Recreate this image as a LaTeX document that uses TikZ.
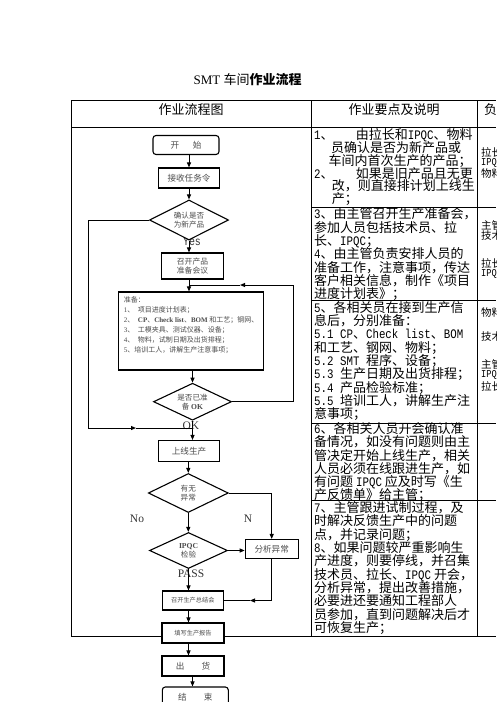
\documentclass[tikz,border=0pt]{standalone}
\usepackage{fontspec}
\setmainfont{Liberation Serif}
\newfontfamily\cjk{Noto Sans CJK SC}
\newfontfamily\monoh[FakeStretch=0.83]{Liberation Mono}
\usetikzlibrary{arrows.meta,shapes.geometric,calc}
\newcommand\mm[1]{{\monoh #1}}
\newcommand\tightls{\lineskiplimit=-20pt\relax}
\begin{document}
\begin{tikzpicture}[x=1pt,y=-1pt,
  tline/.style={line width=0.9pt},
  fbox/.style={draw, line width=1.1pt, fill=white, inner sep=0pt, text=black!70, align=center, font=\cjk\fontsize{8.6}{10}\selectfont},
  rbox/.style={fbox, rounded corners=3pt},
  dia/.style={draw, diamond, aspect=2, line width=1.1pt, fill=white, inner sep=0pt, text=black!70, align=center, font=\cjk\fontsize{7.6}{9}\selectfont},
  arr/.style={line width=1pt, -{Triangle[length=5pt,width=4pt]}},
  conn/.style={line width=1pt},
  lbl/.style={font=\fontsize{11.5}{12}\selectfont, text=black!80, inner sep=0pt},
  cell/.style={anchor=north west, inner sep=0pt, align=left},
  side/.style={anchor=west, inner sep=0pt, font=\cjk\fontsize{10.5}{10.5}\selectfont},
]
\useasboundingbox (0,0) rectangle (496,702);
\clip (0,0) rectangle (496,702);

% title
\node[inner sep=0pt, font=\fontsize{13}{13}\selectfont] (title) at (247.7,80) {SMT {\cjk 车间}{\cjk\bfseries 作业流程}};

% table
\draw[tline] (71,100) -- (496,100);
\draw[tline] (71,127) -- (496,127);
\draw[tline] (71,100) -- (71,636) -- (496,636);
\draw[tline] (311,100) -- (311,636);
\draw[tline] (477,100) -- (477,636);
\foreach \yy in {207,300,423,500} \draw[tline] (311,\yy) -- (496,\yy);

% headers
\node[inner sep=0pt, font=\cjk\fontsize{13}{13}\selectfont] (h1) at (191,110) {作业流程图};
\node[inner sep=0pt, font=\cjk\fontsize{13}{13}\selectfont] (h2) at (394,110) {作业要点及说明};
\node[inner sep=0pt, anchor=west, font=\cjk\fontsize{13}{13}\selectfont] (h3) at (484,110) {负责人};

% middle column
\node[cell, font=\cjk\fontsize{13}{12.8}\selectfont\tightls] (c1) at (314,128.5) {%
\mm{1}、\hspace{1.7em}由拉长和\mm{IPQC}、物料\\
\hspace*{1.3em}员确认是否为新产品或\\
\hspace*{1.1em}车间内首次生产的产品；\\
\mm{2}、\hspace{1.7em}如果是旧产品且无更\\
\hspace*{1.35em}改，则直接排计划上线生\\
\hspace*{1.35em}产；};
\node[cell, font=\cjk\fontsize{13}{13.3}\selectfont\tightls] (c2) at (314,207.8) {%
\mm{3}、由主管召开生产准备会，\\
参加人员包括技术员、拉\\
长、\mm{IPQC}；\\
\mm{4}、由主管负责安排人员的\\
准备工作，注意事项，传达\\
客户相关信息，制作《项目\\
进度计划表》；};
\node[cell, font=\cjk\fontsize{13}{13.3}\selectfont\tightls] (c3) at (314,301) {%
\mm{5}、各相关员在接到生产信\\
息后，分别准备：\\
\mm{5.1 CP}、\mm{Check list}、\mm{BOM}\\
和工艺、钢网、物料；\\
\mm{5.2 SMT }程序、设备；\\
\mm{5.3 }生产日期及出货排程；\\
\mm{5.4 }产品检验标准；\\
\mm{5.5 }培训工人，讲解生产注\\
意事项；};
\node[cell, font=\cjk\fontsize{13}{13.15}\selectfont\tightls] (c4) at (314,422.5) {%
\mm{6}、各相关人员开会确认准\\
备情况，如没有问题则由主\\
管决定开始上线生产，相关\\
人员必须在线跟进生产，如\\
有问题 \mm{IPQC} 应及时写《生\\
产反馈单》给主管；};
\node[cell, font=\cjk\fontsize{13}{13.35}\selectfont\tightls] (c5) at (314,501.3) {%
\mm{7}、主管跟进试制过程，及\\
时解决反馈生产中的问题\\
点，并记录问题；\\
\mm{8}、如果问题较严重影响生\\
产进度，则要停线，并召集\\
技术员、拉长、\mm{IPQC} 开会，\\
分析异常，提出改善措施，\\
必要进还要通知工程部人\\
员参加，直到问题解决后才\\
可恢复生产；};

% right column (cut by the page edge)
\node[side] (s1a) at (481,152) {拉长};
\node[side] (s1b) at (481,163) {\mm{IPQC}};
\node[side] (s1c) at (481,174) {物料员};
\node[side] (s2a) at (481,225) {主管};
\node[side] (s2b) at (481,236) {技术员};
\node[side] (s2c) at (481,263) {拉长};
\node[side] (s2d) at (481,274) {\mm{IPQC}};
\node[side] (s3a) at (481,313) {物料员};
\node[side] (s3b) at (481,337) {技术员};
\node[side] (s3c) at (481,364) {主管};
\node[side] (s3d) at (481,375) {\mm{IPQC}};
\node[side] (s3e) at (481,386) {拉长};

% flowchart nodes
\node[lbl, font=\monoh\fontsize{12}{12}\selectfont] (yes) at (192,242) {Yes};
\node[rbox, minimum width=66pt, minimum height=19pt] (start) at (186,145) {开\hspace{1.6em}始};
\node[fbox, minimum width=61pt, minimum height=20pt] (recv) at (189,178) {接收任务令};
\node[dia, minimum width=79pt, minimum height=40pt] (new) at (189,220) {确认是否\\为新产品};
\node[fbox, minimum width=62pt, minimum height=26pt, font=\cjk\fontsize{7.8}{9.5}\selectfont] (meet) at (192.5,266) {召开产品\\准备会议};
\node[fbox, minimum width=145pt, minimum height=78pt] (prep) at (190.8,331) {};
\node[anchor=north west, inner sep=0pt, align=left, text=black!70, font=\cjk\fontsize{7}{9.9}\selectfont] (preptext) at ($(prep.north west)+(6,5)$) {准备：\\
{\rmfamily 1}、\hspace{0.5em}项目进度计划表；\\
{\rmfamily 2}、\hspace{0.5em}{\rmfamily\bfseries CP}、{\rmfamily\bfseries Check list}、{\rmfamily\bfseries BOM} 和工艺；钢网、\\
{\rmfamily 3}、\hspace{0.5em}工模夹具、测试仪器、设备；\\
{\rmfamily 4}、\hspace{0.5em}物料，试制日期及出货排程；\\
{\rmfamily 5}、培训工人，讲解生产注意事项；};
\node[dia, minimum width=78pt, minimum height=37pt] (okd) at (192.5,401.7) {是否已准\\备 {\rmfamily\bfseries OK}};
\node[lbl] (oklbl) at (191,426) {OK};
\node[fbox, minimum width=61pt, minimum height=21pt] (online) at (189,451) {上线生产};
\node[dia, minimum width=80pt, minimum height=39pt] (abn) at (188.3,493) {有无\\异常};
\node[lbl] (no) at (137,519) {No};
\node[lbl] (nn) at (248,519) {N};
\node[dia, minimum width=78pt, minimum height=36pt] (ipqc) at (188.5,550.5) {{\rmfamily\bfseries IPQC}\\检验};
\node[fbox, minimum width=53pt, minimum height=19pt] (ana) at (271.7,549) {分析异常};
\node[lbl] (pass) at (191,574) {PASS};
\node[fbox, minimum width=61pt, minimum height=19pt, font=\cjk\fontsize{6.2}{7}\selectfont] (summ) at (192.8,600.5) {召开生产总结会};
\node[fbox, minimum width=62pt, minimum height=20pt, font=\cjk\fontsize{6.2}{7}\selectfont] (report) at (193,633) {填写生产报告};
\node[fbox, minimum width=62pt, minimum height=20pt] (ship) at (193,666) {出\hspace{2em}货};
\node[rbox, minimum width=66pt, minimum height=20pt] (end) at (195.3,697) {结\hspace{2em}束};

% connectors
\draw[arr] (start.south -| recv) -- (recv.north);
\draw[arr] (recv) -- (new);
\draw[arr] (new.south) -- (new.south |- meet.north);
\draw[arr] (meet.south -| new) -- (new |- prep.north);
\draw[arr] (prep.south -| okd) -- (okd.north);
\draw[arr] (okd.south) -- (okd.south |- online.north);
\coordinate (rt) at (293,285);
\coordinate (am1) at (240,285);
\coordinate (j1) at (189,285);
\draw[arr] (okd.east) -| (rt) -- (am1);
\draw[conn] (am1) -- (j1);
\coordinate (lt) at (88,428);
\coordinate (am2) at (136,428);
\coordinate (j2) at (192.5,428);
\draw[arr] (new.west) -| (lt) -- (am2);
\draw[conn] (am2) -- (j2);
\draw[arr] (online.south -| abn) -- (abn.north);
\draw[arr] (abn.south) -- (abn.south |- ipqc.north);
\draw[arr] (abn.east) -| (ana.north);
\draw[arr] (ipqc.east) -- (ipqc.east -| ana.west);
\draw[arr] (ipqc.south) -- (ipqc.south |- summ.north);
\coordinate (am3) at (250,600.5);
\draw[arr] (ana.south) |- (am3);
\draw[conn] (am3) -- (summ.east);
\draw[arr] (summ.south -| ipqc) -- (ipqc |- report.north);
\draw[arr] (report.south -| ipqc) -- (ipqc |- ship.north);
\draw[arr] (ship.south -| okd) -- (okd |- end.north);
\end{tikzpicture}
\end{document}
